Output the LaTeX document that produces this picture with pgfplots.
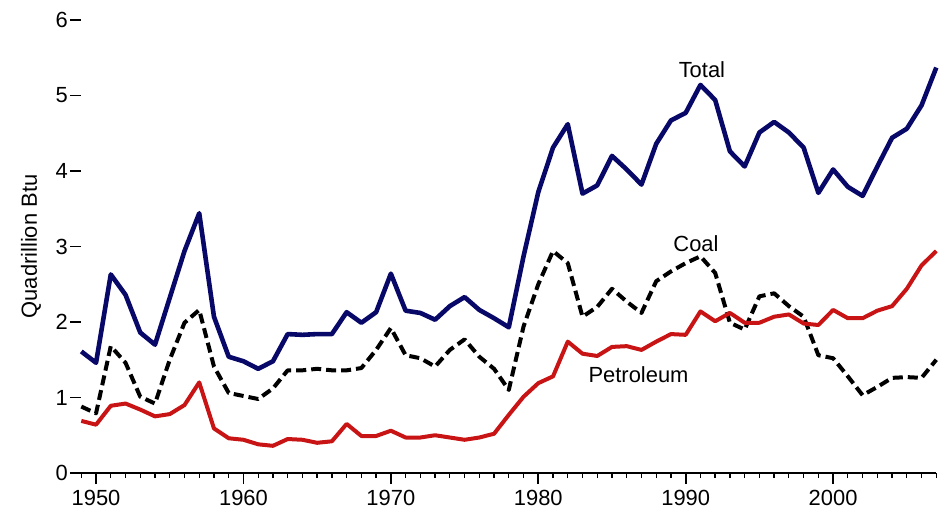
\documentclass[border=0pt]{standalone}
\usepackage{pgfplots}
\pgfplotsset{compat=1.18}
\usepackage{fontspec}
\setmainfont{Liberation Sans}
\definecolor{navyline}{RGB}{8,8,104}
\definecolor{redline}{RGB}{200,20,20}
\newcommand{\chartfont}{\fontsize{22}{26}\selectfont}
\begin{document}
\begin{tikzpicture}
\path[use as bounding box] (-81.3bp,-43bp) rectangle (868.7bp,473bp);
\begin{axis}[
  at={(0,0)}, anchor=south west,
  scale only axis, width=855bp, height=453bp,
  xmin=1949, xmax=2007, ymin=0, ymax=6,
  axis x line*=bottom, axis y line*=left,
  y axis line style={draw=none},
  x axis line style={line width=1.6bp},
  xtick={1950,1960,...,2000},
  xticklabels={1950,1960,1970,1980,1990,2000},
  minor xtick={1949,...,2007},
  ytick={0,1,...,6},
  yticklabels={0,1,2,3,4,5,6},
  tick align=outside,
  major tick length=11bp, minor tick length=5bp,
  every tick/.style={black, line width=1.6bp},
  minor tick style={line width=1.3bp},
  xticklabel style={font=\chartfont, yshift=-3bp},
  yticklabel style={font=\chartfont, xshift=1bp},
  /pgf/number format/assume math mode=true,
  ylabel={Quadrillion Btu},
  every axis y label/.style={at={(axis description cs:-0.0588,0.5)}, rotate=90, anchor=center, font=\chartfont},
  clip=false,
  line join=round,
]
\addplot[navyline, line width=4.6bp] coordinates {
(1949,1.61)(1950,1.46)(1951,2.63)(1952,2.36)(1953,1.86)(1954,1.70)(1955,2.32)(1956,2.94)(1957,3.44)(1958,2.07)(1959,1.54)
(1960,1.48)(1961,1.38)(1962,1.48)(1963,1.84)(1964,1.83)(1965,1.84)(1966,1.84)(1967,2.13)(1968,1.99)(1969,2.13)
(1970,2.64)(1971,2.15)(1972,2.12)(1973,2.03)(1974,2.21)(1975,2.33)(1976,2.16)(1977,2.05)(1978,1.93)(1979,2.87)
(1980,3.72)(1981,4.31)(1982,4.62)(1983,3.70)(1984,3.81)(1985,4.20)(1986,4.02)(1987,3.82)(1988,4.36)(1989,4.67)
(1990,4.77)(1991,5.14)(1992,4.94)(1993,4.26)(1994,4.06)(1995,4.51)(1996,4.65)(1997,4.51)(1998,4.31)(1999,3.71)
(2000,4.02)(2001,3.79)(2002,3.67)(2003,4.06)(2004,4.44)(2005,4.56)(2006,4.87)(2007,5.37)
};
\addplot[black, line width=4bp, dash pattern=on 10bp off 5bp] coordinates {
(1949,0.88)(1950,0.79)(1951,1.68)(1952,1.46)(1953,1.01)(1954,0.92)(1955,1.50)(1956,1.99)(1957,2.16)(1958,1.41)(1959,1.06)
(1960,1.02)(1961,0.98)(1962,1.12)(1963,1.36)(1964,1.36)(1965,1.38)(1966,1.36)(1967,1.36)(1968,1.39)(1969,1.63)
(1970,1.92)(1971,1.56)(1972,1.52)(1973,1.41)(1974,1.63)(1975,1.77)(1976,1.54)(1977,1.38)(1978,1.10)(1979,1.94)
(1980,2.50)(1981,2.94)(1982,2.78)(1983,2.07)(1984,2.20)(1985,2.44)(1986,2.27)(1987,2.12)(1988,2.54)(1989,2.67)
(1990,2.78)(1991,2.87)(1992,2.65)(1993,1.99)(1994,1.90)(1995,2.34)(1996,2.38)(1997,2.21)(1998,2.07)(1999,1.56)
(2000,1.52)(2001,1.28)(2002,1.03)(2003,1.14)(2004,1.26)(2005,1.27)(2006,1.26)(2007,1.50)
};
\addplot[redline, line width=4bp] coordinates {
(1949,0.69)(1950,0.64)(1951,0.89)(1952,0.92)(1953,0.84)(1954,0.75)(1955,0.78)(1956,0.90)(1957,1.20)(1958,0.59)(1959,0.46)
(1960,0.44)(1961,0.38)(1962,0.36)(1963,0.45)(1964,0.44)(1965,0.40)(1966,0.42)(1967,0.65)(1968,0.49)(1969,0.49)
(1970,0.56)(1971,0.47)(1972,0.47)(1973,0.50)(1974,0.47)(1975,0.44)(1976,0.47)(1977,0.52)(1978,0.77)(1979,1.01)
(1980,1.19)(1981,1.28)(1982,1.74)(1983,1.58)(1984,1.55)(1985,1.67)(1986,1.68)(1987,1.63)(1988,1.74)(1989,1.84)
(1990,1.83)(1991,2.14)(1992,2.01)(1993,2.12)(1994,1.99)(1995,1.99)(1996,2.07)(1997,2.10)(1998,1.98)(1999,1.96)
(2000,2.16)(2001,2.05)(2002,2.05)(2003,2.15)(2004,2.21)(2005,2.44)(2006,2.75)(2007,2.94)
};
\node[font=\chartfont] at (axis cs:1991.1,5.34) {Total};
\node[font=\chartfont] at (axis cs:1990.7,3.04) {Coal};
\node[font=\chartfont] at (axis cs:1986.8,1.30) {Petroleum};
\end{axis}
\end{tikzpicture}
\end{document}
